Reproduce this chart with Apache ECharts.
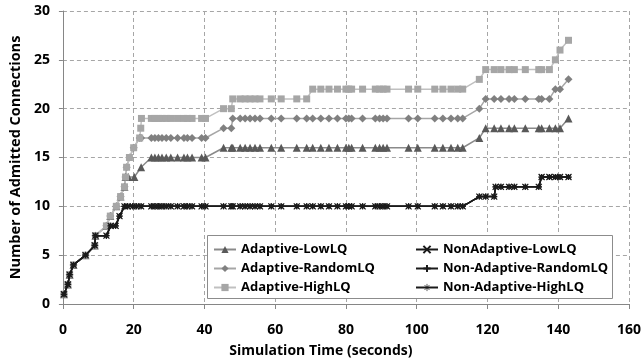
<!DOCTYPE html>
<html>
<head>
<meta charset="utf-8">
<script src="https://cdn.jsdelivr.net/npm/echarts@6/dist/echarts.min.js"></script>
<style>
html,body{margin:0;padding:0;background:#fff;}
#chart{width:644px;height:363px;}
</style>
</head>
<body>
<div id="chart"></div>
<script>
// ---- Data ----
const xTicks = [0, 20, 40, 60, 80, 100, 120, 140, 160];
const yTicks = [0, 5, 10, 15, 20, 25, 30];

// Adaptive: common start
const adaptiveEarlyTime = [0.3, 1.4, 1.9, 3.0, 6.4, 9.0, 9.2, 12.3, 13.4, 15.1, 16.3, 17.4, 17.7];
const adaptiveEarlyValue = [1, 2, 3, 4, 5, 6, 7, 8, 9, 10, 11, 12, 13];

// series-specific ramp after divergence
const lowRampTime = [18.5, 20.2, 22.1];
const lowRampValue = [13, 13, 14];
const randomRampTime = [18.0, 18.8, 20.0, 21.7, 22.1];
const randomRampValue = [14, 15, 16, 17, 17];
const highRampTime = [18.0, 18.8, 20.0, 21.7, 22.0, 22.2];
const highRampValue = [14, 15, 16, 17, 18, 19];

// shared sampling times of the adaptive runs after ~22 s
const adaptiveLateTime = [25.0, 26.0, 27.0, 28.0, 29.2, 30.5, 32.4, 34.2, 35.2, 36.5, 39.2, 40.3,
  45.4, 47.6, 48.0,
  50.1, 51.5, 52.9, 54.3, 55.7, 58.9, 61.7, 66.1, 68.9,
  70.6, 72.9, 75.2, 77.6, 80.0, 80.8, 81.6, 84.7, 88.3, 89.5, 90.5, 91.6, 97.7, 100.3, 105.1, 107.4, 109.7, 111.6, 113.0,
  117.7,
  119.5, 121.9, 123.8, 126.1, 127.6, 130.7, 134.5, 135.3, 137.5,
  139.2, 140.5,
  142.9];
const lowLateValue = [15, 15, 15, 15, 15, 15, 15, 15, 15, 15, 15, 15,
  16, 16, 16,
  16, 16, 16, 16, 16, 16, 16, 16, 16,
  16, 16, 16, 16, 16, 16, 16, 16, 16, 16, 16, 16, 16, 16, 16, 16, 16, 16, 16,
  17,
  18, 18, 18, 18, 18, 18, 18, 18, 18,
  18, 18,
  19];
const randomLateValue = [17, 17, 17, 17, 17, 17, 17, 17, 17, 17, 17, 17,
  18, 18, 19,
  19, 19, 19, 19, 19, 19, 19, 19, 19,
  19, 19, 19, 19, 19, 19, 19, 19, 19, 19, 19, 19, 19, 19, 19, 19, 19, 19, 19,
  20,
  21, 21, 21, 21, 21, 21, 21, 21, 21,
  22, 22,
  23];
const highLateValue = [19, 19, 19, 19, 19, 19, 19, 19, 19, 19, 19, 19,
  20, 20, 21,
  21, 21, 21, 21, 21, 21, 21, 21, 21,
  22, 22, 22, 22, 22, 22, 22, 22, 22, 22, 22, 22, 22, 22, 22, 22, 22, 22, 22,
  23,
  24, 24, 24, 24, 24, 24, 24, 24, 24,
  25, 26,
  27];

// Non-adaptive (all three variants coincide)
const nonAdaptiveTime = [0.3, 1.4, 1.9, 3.0, 6.4, 9.0, 9.2, 12.3, 13.5, 14.9, 16.0, 17.4,
  18.3, 19.7, 20.8, 22.1,
  25.0, 26.0, 27.0, 28.0, 29.2, 30.5, 32.4, 34.2, 35.2, 36.5, 39.2, 40.3,
  45.4, 47.6, 48.0,
  50.1, 51.5, 52.9, 54.3, 55.7, 58.9, 61.7, 66.1, 68.9,
  70.6, 72.9, 75.2, 77.6, 80.0, 80.8, 81.6, 84.7, 88.3, 89.5, 90.5, 91.6, 97.7, 100.3, 105.1, 107.4, 109.7, 111.6, 113.0,
  117.7, 119.5, 121.9,
  122.3, 123.8, 126.1, 127.6, 130.7, 134.5,
  135.3, 137.5, 139.2, 140.5, 142.9];
const nonAdaptiveValue = [1, 2, 3, 4, 5, 6, 7, 7, 8, 8, 9, 10,
  10, 10, 10, 10,
  10, 10, 10, 10, 10, 10, 10, 10, 10, 10, 10, 10,
  10, 10, 10,
  10, 10, 10, 10, 10, 10, 10, 10, 10,
  10, 10, 10, 10, 10, 10, 10, 10, 10, 10, 10, 10, 10, 10, 10, 10, 10, 10, 10,
  11, 11, 11,
  12, 12, 12, 12, 12, 12,
  13, 13, 13, 13, 13];

const adaptiveNames = ['Adaptive-LowLQ', 'Adaptive-RandomLQ', 'Adaptive-HighLQ'];
const nonAdaptiveNames = ['NonAdaptive-LowLQ', 'Non-Adaptive-RandomLQ', 'Non-Adaptive-HighLQ'];

// ---- build ----
function pairs(t, v) { return t.map((x, i) => [x, v[i]]); }
const lowData = pairs(adaptiveEarlyTime.concat(lowRampTime, adaptiveLateTime),
  adaptiveEarlyValue.concat(lowRampValue, lowLateValue));
const randomData = pairs(adaptiveEarlyTime.concat(randomRampTime, adaptiveLateTime),
  adaptiveEarlyValue.concat(randomRampValue, randomLateValue));
const highData = pairs(adaptiveEarlyTime.concat(highRampTime, adaptiveLateTime),
  adaptiveEarlyValue.concat(highRampValue, highLateValue));
const nonData = pairs(nonAdaptiveTime, nonAdaptiveValue);

const FONT = '"Open Sans", "Noto Sans", sans-serif';
const symX = 'path://M0,0L10,10M10,0L0,10';
const symPlus = 'path://M5,0L5,10M0,5L10,5';
const symStar = 'path://M5,0L5,10M0,5L10,5M1.5,1.5L8.5,8.5M8.5,1.5L1.5,8.5';

function adaptiveSeries(name, data, symbol, size, lineColor, symColor) {
  return {
    name, type: 'line', data, symbol, symbolSize: size, z: 3,
    lineStyle: { color: lineColor, width: 1.5 },
    itemStyle: { color: symColor, borderWidth: 0 },
    emphasis: { disabled: true }, animation: false
  };
}
function nonSeries(name, data, symbol) {
  return {
    name, type: 'line', data, symbol, symbolSize: 6, z: 4,
    lineStyle: { color: '#1a1a1a', width: 1.5 },
    itemStyle: { color: '#1a1a1a', borderColor: '#1a1a1a', borderWidth: 1.2 },
    emphasis: { disabled: true }, animation: false
  };
}

const legendText = { fontFamily: FONT, fontWeight: 'bold', fontSize: 13, color: '#000' };
const chart = echarts.init(document.getElementById('chart'), null, { renderer: 'canvas' });
chart.setOption({
  backgroundColor: '#ffffff',
  animation: false,
  textStyle: { fontFamily: FONT },
  grid: { left: 61, right: 12, top: 11, bottom: 58, containLabel: false },
  xAxis: {
    type: 'value', min: xTicks[0], max: xTicks[xTicks.length - 1], interval: 20,
    name: 'Simulation Time (seconds)', nameLocation: 'middle', nameGap: 40,
    nameTextStyle: { fontFamily: FONT, fontWeight: 'bold', fontSize: 14, color: '#000', padding: [0, 50, 0, 0] },
    axisLine: { show: true, lineStyle: { color: '#868686', width: 1 } },
    axisTick: { show: true, length: 5, inside: false, lineStyle: { color: '#868686' } },
    axisLabel: { fontFamily: FONT, fontWeight: 'bold', fontSize: 14, color: '#000', margin: 19 },
    splitLine: { show: true, lineStyle: { color: '#a6a6a6', type: [4, 3], width: 1 } }
  },
  yAxis: {
    type: 'value', min: yTicks[0], max: yTicks[yTicks.length - 1], interval: 5,
    name: 'Number of Admitted Connections', nameLocation: 'middle', nameGap: 37,
    nameTextStyle: { fontFamily: FONT, fontWeight: 'bold', fontSize: 14.5, color: '#000' },
    axisLine: { show: true, lineStyle: { color: '#868686', width: 1 } },
    axisTick: { show: true, length: 4, inside: false, lineStyle: { color: '#868686' } },
    axisLabel: { fontFamily: FONT, fontWeight: 'bold', fontSize: 14, color: '#000', margin: 13 },
    splitLine: { show: true, lineStyle: { color: '#a6a6a6', type: [4, 3], width: 1 } }
  },
  graphic: [{
    type: 'rect', z: 10, silent: true,
    shape: { x: 207.5, y: 235.5, width: 405, height: 63 },
    style: { fill: '#ffffff', stroke: '#8c8c8c', lineWidth: 1 }
  }],
  legend: [{
    data: adaptiveNames, orient: 'vertical', left: 209, top: 241, z: 20,
    padding: [2, 2, 2, 4], itemGap: 6, itemWidth: 22, itemHeight: 9,
    textStyle: legendText
  }, {
    data: nonAdaptiveNames.map(n => n === 'Non-Adaptive-HighLQ'
      ? { name: n, itemStyle: { borderWidth: 0.7 } } : n),
    orient: 'vertical', left: 411, top: 241, z: 20,
    padding: [2, 2, 2, 4], itemGap: 6, itemWidth: 22, itemHeight: 9,
    textStyle: legendText
  }],
  series: [
    adaptiveSeries('Adaptive-LowLQ', lowData, 'triangle', 8, '#8a8a8a', '#595959'),
    adaptiveSeries('Adaptive-RandomLQ', randomData, 'diamond', 8, '#a6a6a6', '#808080'),
    adaptiveSeries('Adaptive-HighLQ', highData, 'rect', 7, '#c0c0c0', '#a6a6a6'),
    nonSeries('NonAdaptive-LowLQ', nonData, symX),
    nonSeries('Non-Adaptive-RandomLQ', nonData, symPlus),
    nonSeries('Non-Adaptive-HighLQ', nonData, symStar)
  ]
});
</script>
</body>
</html>
